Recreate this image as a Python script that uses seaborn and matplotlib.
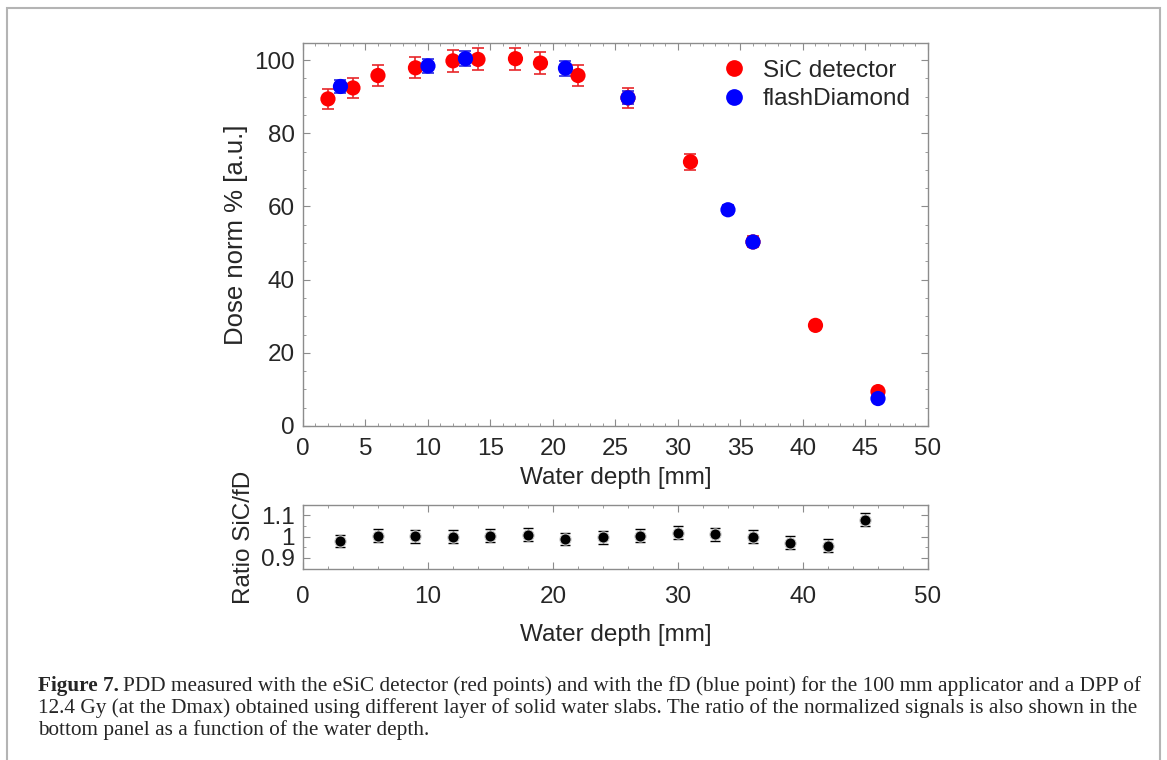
import numpy as np
import pandas as pd
import seaborn as sns
import matplotlib
import matplotlib.pyplot as plt
from matplotlib.patches import Rectangle
from matplotlib.ticker import MultipleLocator

matplotlib.use('Agg')

# PDD values
depth_sic = [2, 4, 6, 9, 12, 14, 17, 19, 22, 26, 31, 36, 41, 46]
dose_sic = [89.4, 92.4, 95.8, 97.9, 99.8, 100.2, 100.4, 99.2, 95.8, 89.7, 72.2, 50.3, 27.5, 9.4]
err_sic = [2.7, 2.8, 2.9, 2.9, 3.0, 3.0, 3.0, 3.0, 2.9, 2.7, 2.2, 1.5, 0.8, 0.3]

depth_fd = [3, 10, 13, 21, 26, 34, 36, 46]
dose_fd = [92.8, 98.4, 100.4, 97.8, 89.7, 59.1, 50.3, 7.5]
err_fd = [1.9, 2.0, 2.0, 2.0, 1.8, 1.2, 1.0, 0.2]

# ratio SiC / fD
depth_ratio = [3, 6, 9, 12, 15, 18, 21, 24, 27, 30, 33, 36, 39, 42, 45]
ratio = [0.979, 1.004, 1.001, 0.999, 1.004, 1.008, 0.989, 0.996, 1.004, 1.018,
         1.011, 1.000, 0.972, 0.957, 1.080]
err_ratio = [0.03] * 15

caption_lines = [
    'PDD measured with the eSiC detector (red points) and with the fD (blue point) for the 100 mm applicator and a DPP of',
    '12.4 Gy (at the Dmax) obtained using different layer of solid water slabs. The ratio of the normalized signals is also shown in the',
    'bottom panel as a function of the water depth.',
]

sns.set_style('ticks')
plt.rcParams['font.family'] = ['Liberation Sans', 'DejaVu Sans']
serif = ['Liberation Serif', 'DejaVu Serif']

sic = pd.DataFrame({'depth': depth_sic, 'dose': dose_sic, 'source': 'SiC detector'})
fd = pd.DataFrame({'depth': depth_fd, 'dose': dose_fd, 'source': 'flashDiamond'})
combined = pd.concat([sic, fd])
rat = pd.DataFrame({'depth': depth_ratio, 'ratio': ratio})

fig = plt.figure(figsize=(11.67, 7.6), dpi=100)
ax = fig.add_axes([0.2596, 0.4395, 0.5356, 0.504])
ax2 = fig.add_axes([0.2596, 0.2513, 0.5356, 0.0842])

# top panel
ax.errorbar(depth_sic, dose_sic, yerr=err_sic, fmt='none', ecolor='#e8262a',
            elinewidth=1.2, capsize=4.5, capthick=1.2, zorder=2)
ax.errorbar(depth_fd, dose_fd, yerr=err_fd, fmt='none', ecolor='#2a2ae0',
            elinewidth=1.2, capsize=4.5, capthick=1.2, zorder=2)
sns.scatterplot(data=combined, x='depth', y='dose', hue='source',
                palette={'SiC detector': '#ff0000', 'flashDiamond': '#0000ff'},
                s=120, edgecolor='none', ax=ax, zorder=3)

ax.set_xlim(0, 50)
ax.set_ylim(0, 104.7)
ax.xaxis.set_major_locator(MultipleLocator(5))
ax.xaxis.set_minor_locator(MultipleLocator(1))
ax.yaxis.set_major_locator(MultipleLocator(20))
ax.yaxis.set_minor_locator(MultipleLocator(5))
ax.set_xlabel('Water depth [mm]', fontsize=17.5, labelpad=5)
ax.set_ylabel('Dose norm % [a.u.]', fontsize=18.5, labelpad=4)
leg = ax.legend(loc='upper right', frameon=False, fontsize=17.5, handletextpad=0.2,
                borderaxespad=0.3, labelspacing=0.25, markerscale=1.1)

# bottom panel
ax2.errorbar(depth_ratio, ratio, yerr=err_ratio, fmt='none', ecolor='black',
             elinewidth=1.0, capsize=3.5, capthick=1.0, zorder=2)
sns.scatterplot(data=rat, x='depth', y='ratio', color='black', s=65,
                edgecolor='#cccccc', linewidth=0.8, ax=ax2, zorder=3)
ax2.set_xlim(0, 50)
ax2.set_ylim(0.848, 1.148)
ax2.xaxis.set_major_locator(MultipleLocator(10))
ax2.xaxis.set_minor_locator(MultipleLocator(2))
ax2.set_yticks([0.9, 1.0, 1.1])
ax2.set_yticklabels(['0.9', '1', '1.1'])
ax2.yaxis.set_minor_locator(MultipleLocator(0.05))
ax2.set_xlabel('Water depth [mm]', fontsize=17.5, labelpad=12)
ax2.set_ylabel('Ratio SiC/fD', fontsize=17.5, labelpad=4)

for a in (ax, ax2):
    for sp in a.spines.values():
        sp.set_visible(True)
        sp.set_color('#8c8c8c')
        sp.set_linewidth(1.0)
    a.tick_params(which='both', direction='in', top=True, right=True,
                  color='#8c8c8c', labelsize=17.5)
    a.tick_params(axis='y', which='both', pad=6)
    a.tick_params(which='major', length=5)
    a.tick_params(which='minor', length=2.5)
ax.tick_params(axis='x', which='both', pad=9)
ax2.tick_params(axis='x', which='both', pad=12)

# caption
fs = 15.3
cx = 38 / 1167
t0 = fig.text(cx, 0.091, 'Figure 7.', fontsize=fs, fontweight='bold',
              family=serif, va='baseline')
fig.canvas.draw()
bb = t0.get_window_extent(renderer=fig.canvas.get_renderer())
fig.text((bb.x1 + 4) / fig.bbox.width, 0.091, caption_lines[0], fontsize=fs,
         family=serif, va='baseline')
fig.text(cx, 0.062, caption_lines[1], fontsize=fs, family=serif, va='baseline')
fig.text(cx, 0.033, caption_lines[2], fontsize=fs, family=serif, va='baseline')

# light page frame
fig.add_artist(Rectangle((7 / 1167, -0.05), (1160 - 7) / 1167, 1 - 8 / 760 + 0.05,
                         transform=fig.transFigure, fill=False,
                         edgecolor='#b4b4b4', linewidth=1.5))

plt.savefig('out.png', dpi=100)
plt.close()
